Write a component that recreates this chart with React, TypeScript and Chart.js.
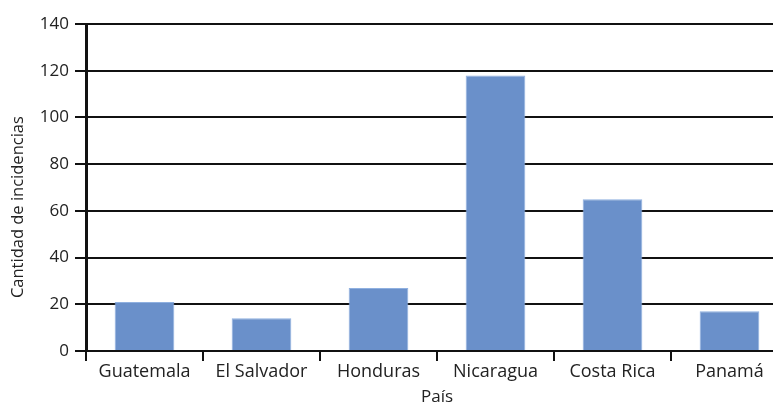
import React, { useEffect, useRef } from "react";
import { Chart, registerables } from "chart.js";

Chart.register(...registerables);

const categories = ["Guatemala", "El Salvador", "Honduras", "Nicaragua", "Costa Rica", "Panamá"];
const incidencias = [21, 14, 27, 118, 65, 17];
const yTicks = [0, 20, 40, 60, 80, 100, 120, 140];
const yTitle = "Cantidad de incidencias";
const xTitle = "País";

const FONT = "'Open Sans', 'Noto Sans', sans-serif";

const yTitlePlugin = {
  id: "yTitlePlugin",
  afterDraw(chart: any) {
    const ctx = chart.ctx;
    const area = chart.chartArea;
    ctx.save();
    ctx.font = `16.5px ${FONT}`;
    ctx.fillStyle = "#222";
    ctx.textAlign = "center";
    ctx.textBaseline = "middle";
    ctx.translate(18, area.top + (area.bottom - area.top) * 0.56);
    ctx.rotate(-Math.PI / 2);
    ctx.fillText(yTitle, 0, 0);
    ctx.restore();
  },
};

export default function App() {
  const ref = useRef<HTMLCanvasElement | null>(null);
  useEffect(() => {
    const canvas = ref.current;
    if (!canvas) return;
    const chart = new Chart(canvas, {
      type: "bar",
      data: {
        labels: categories,
        datasets: [
          {
            data: incidencias,
            backgroundColor: "#6a90ca",
            borderColor: "#8fb0e0",
            borderWidth: 1,
            barPercentage: 0.51,
            categoryPercentage: 1,
          },
        ],
      },
      plugins: [yTitlePlugin],
      options: {
        animation: false,
        responsive: false,
        maintainAspectRatio: false,
        layout: { padding: { left: 0, right: 12, top: 24, bottom: 0 } },
        plugins: { legend: { display: false }, tooltip: { enabled: false } },
        scales: {
          x: {
            offset: true,
            afterFit: (s: any) => {
              s.height = 54;
            },
            grid: {
              offset: true,
              drawOnChartArea: false,
              drawTicks: true,
              tickLength: 10,
              color: "#111",
              lineWidth: 2,
            },
            border: { display: false },
            ticks: { color: "#222", font: { family: FONT, size: 18 }, padding: 0 },
            title: { display: true, text: xTitle, color: "#222", font: { family: FONT, size: 17 }, padding: { top: 0, bottom: -2 } },
          },
          y: {
            min: 0,
            max: 140,
            afterFit: (s: any) => {
              s.width = 86;
            },
            afterBuildTicks: (axis: any) => {
              axis.ticks = yTicks.map((v) => ({ value: v }));
            },
            grid: { color: "#111", lineWidth: 2, tickLength: 11, drawTicks: true },
            border: { display: true, color: "#111", width: 3 },
            ticks: { color: "#222", font: { family: FONT, size: 17 }, padding: 6 },
            title: { display: false },
          },
        },
      },
    });
    return () => chart.destroy();
  }, []);
  return (
    <div style={{ position: "absolute", left: 0, top: 0, width: 773, height: 405, overflow: "hidden", background: "#fff" }}>
      <canvas ref={ref} width={800} height={405} style={{ width: 800, height: 405, display: "block" }} />
    </div>
  );
}
